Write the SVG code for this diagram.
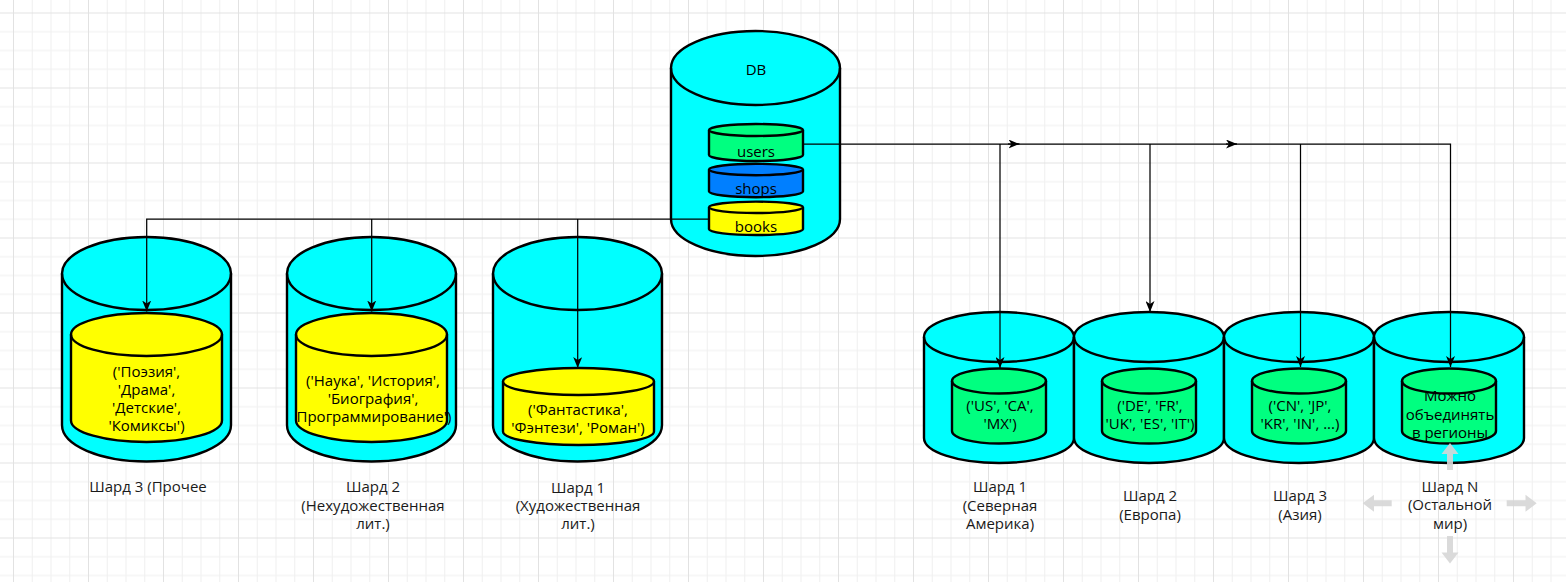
<svg xmlns="http://www.w3.org/2000/svg" width="1566" height="582" viewBox="0 0 1566 582">
<defs>
<pattern id="grid" x="13" y="12.5" width="75" height="75" patternUnits="userSpaceOnUse">
<rect x="0" y="18.75" width="75" height="1" fill="#efefef"/>
<rect x="0" y="37.5" width="75" height="1" fill="#efefef"/>
<rect x="0" y="56.25" width="75" height="1" fill="#efefef"/>
<rect x="18.75" y="0" width="1" height="75" fill="#efefef"/>
<rect x="37.5" y="0" width="1" height="75" fill="#efefef"/>
<rect x="56.25" y="0" width="1" height="75" fill="#efefef"/>
<rect x="0" y="0" width="75" height="1" fill="#e2e2e2"/>
<rect x="0" y="0" width="1" height="75" fill="#e2e2e2"/>
</pattern>
<marker id="arr" viewBox="0 0 11 9" refX="11" refY="4.5" markerWidth="11" markerHeight="9" markerUnits="userSpaceOnUse" orient="auto">
<path d="M0,0 L11,4.5 L0,9 L3,4.5 Z" fill="#000"/>
</marker>
<style>
.cyl{stroke:#000;stroke-width:2.4;stroke-linejoin:round}
.cy{fill:#00ffff}
.ye{fill:#ffff00}
.gr{fill:#00ff80}
.bl{fill:#007fff}
.cap{fill:none;stroke:#000;stroke-width:2.4}
.con{fill:none;stroke:#000;stroke-width:1.25}
.t{font-family:"Open Sans","Liberation Sans",sans-serif;font-size:15px;fill:#000;text-anchor:middle}
.lb{font-family:"Open Sans","Liberation Sans",sans-serif;font-size:15px;fill:#1a1a1a;text-anchor:middle}
.hint{fill:#d6d6d6;opacity:0.9}
</style>
</defs>
<rect width="1566" height="582" fill="#ffffff"/>
<rect width="1566" height="582" fill="url(#grid)"/>

<g id="db">
<path class="cyl cy" d="M671,68 A84.5,37 0 0 1 840,68 L840,219 A84.5,37 0 0 1 671,219 Z"/>
<path class="cap" d="M671,68 A84.5,37 0 0 0 840,68"/>
<text class="t" x="756" y="75">DB</text>
</g>
<g id="users">
<path class="cyl gr" d="M709,130 A47,6 0 0 1 803,130 L803,155 A47,6 0 0 1 709,155 Z"/>
<path class="cap" d="M709,130 A47,6 0 0 0 803,130"/>
<text class="t" x="756" y="157">users</text>
</g>
<g id="shops">
<path class="cyl bl" d="M709,169.5 A47,5.7 0 0 1 803,169.5 L803,191.5 A47,5.7 0 0 1 709,191.5 Z"/>
<path class="cap" d="M709,169.5 A47,5.7 0 0 0 803,169.5"/>
<text class="t" x="756" y="193.5">shops</text>
</g>
<g id="books">
<path class="cyl ye" d="M709,207.3 A47,5.7 0 0 1 803,207.3 L803,229.3 A47,5.7 0 0 1 709,229.3 Z"/>
<path class="cap" d="M709,207.3 A47,5.7 0 0 0 803,207.3"/>
<text class="t" x="756" y="232">books</text>
</g>

<g id="shard3-books">
<path class="cyl cy" d="M62,273.5 A84.5,36.5 0 0 1 231,273.5 L231,425 A84.5,36.5 0 0 1 62,425 Z"/>
<path class="cap" d="M62,273.5 A84.5,36.5 0 0 0 231,273.5"/>
<path class="cyl ye" d="M71,334.5 A75.5,21.5 0 0 1 222,334.5 L222,420.5 A75.5,21.5 0 0 1 71,420.5 Z"/>
<path class="cap" d="M71,334.5 A75.5,21.5 0 0 0 222,334.5"/>
<text class="t" x="146.5" y="377.3">('Поэзия',</text>
<text class="t" x="146.5" y="395.3">'Драма',</text>
<text class="t" x="146.5" y="413.3">'Детские',</text>
<text class="t" x="146.5" y="431.3">'Комиксы')</text>
<text class="lb" x="148" y="492">Шард 3 (Прочее</text>
</g>

<g id="shard2-books">
<path class="cyl cy" d="M287,273.5 A84.5,36.5 0 0 1 456,273.5 L456,425 A84.5,36.5 0 0 1 287,425 Z"/>
<path class="cap" d="M287,273.5 A84.5,36.5 0 0 0 456,273.5"/>
<path class="cyl ye" d="M296,334.5 A75.5,21.5 0 0 1 447,334.5 L447,420.5 A75.5,21.5 0 0 1 296,420.5 Z"/>
<path class="cap" d="M296,334.5 A75.5,21.5 0 0 0 447,334.5"/>
<text class="t" x="373" y="386">('Наука', 'История',</text>
<text class="t" x="373" y="404.3">'Биография',</text>
<text class="t" x="374" y="422">Программирование')</text>
<text class="lb" x="373" y="492">Шард 2</text>
<text class="lb" x="373" y="510.5">(Нехудожественная</text>
<text class="lb" x="373" y="528.5">лит.)</text>
</g>

<g id="shard1-books">
<path class="cyl cy" d="M493,273.5 A84.5,36.5 0 0 1 662,273.5 L662,425 A84.5,36.5 0 0 1 493,425 Z"/>
<path class="cap" d="M493,273.5 A84.5,36.5 0 0 0 662,273.5"/>
<path class="cyl ye" d="M503,381.5 A75.5,13.5 0 0 1 654,381.5 L654,431.5 A75.5,13.5 0 0 1 503,431.5 Z"/>
<path class="cap" d="M503,381.5 A75.5,13.5 0 0 0 654,381.5"/>
<text class="t" x="578" y="415.3">('Фантастика',</text>
<text class="t" x="578" y="433">'Фэнтези', 'Роман')</text>
<text class="lb" x="578" y="492.5">Шард 1</text>
<text class="lb" x="578" y="511">(Художественная</text>
<text class="lb" x="578" y="528.5">лит.)</text>
</g>

<g id="shard1-users">
<path class="cyl cy" d="M924,337 A75,25 0 0 1 1074,337 L1074,438 A75,25 0 0 1 924,438 Z"/>
<path class="cap" d="M924,337 A75,25 0 0 0 1074,337"/>
<path class="cyl gr" d="M952,381 A47,12.5 0 0 1 1046,381 L1046,431 A47,12.5 0 0 1 952,431 Z"/>
<path class="cap" d="M952,381 A47,12.5 0 0 0 1046,381"/>
<text class="t" x="1000" y="411">('US', 'CA',</text>
<text class="t" x="1000" y="428.6">'MX')</text>
<text class="lb" x="1000" y="492">Шард 1</text>
<text class="lb" x="1000" y="511">(Северная</text>
<text class="lb" x="1000" y="528.6">Америка)</text>
</g>

<g id="shard2-users">
<path class="cyl cy" d="M1074,337 A75,25 0 0 1 1224,337 L1224,438 A75,25 0 0 1 1074,438 Z"/>
<path class="cap" d="M1074,337 A75,25 0 0 0 1224,337"/>
<path class="cyl gr" d="M1102,381 A47,12.5 0 0 1 1196,381 L1196,431 A47,12.5 0 0 1 1102,431 Z"/>
<path class="cap" d="M1102,381 A47,12.5 0 0 0 1196,381"/>
<text class="t" x="1150" y="411">('DE', 'FR',</text>
<text class="t" x="1150" y="428.6">'UK', 'ES', 'IT')</text>
<text class="lb" x="1150" y="501.3">Шард 2</text>
<text class="lb" x="1150" y="519.6">(Европа)</text>
</g>

<g id="shard3-users">
<path class="cyl cy" d="M1224,337 A75,25 0 0 1 1374,337 L1374,438 A75,25 0 0 1 1224,438 Z"/>
<path class="cap" d="M1224,337 A75,25 0 0 0 1374,337"/>
<path class="cyl gr" d="M1252,381 A47,12.5 0 0 1 1346,381 L1346,431 A47,12.5 0 0 1 1252,431 Z"/>
<path class="cap" d="M1252,381 A47,12.5 0 0 0 1346,381"/>
<text class="t" x="1300" y="410.5">('CN', 'JP',</text>
<text class="t" x="1300" y="428.6">'KR', 'IN', ...)</text>
<text class="lb" x="1300" y="501.3">Шард 3</text>
<text class="lb" x="1300" y="519.6">(Азия)</text>
</g>

<g id="shardN-users">
<path class="cyl cy" d="M1374,337 A75,25 0 0 1 1524,337 L1524,438 A75,25 0 0 1 1374,438 Z"/>
<path class="cap" d="M1374,337 A75,25 0 0 0 1524,337"/>
<path class="cyl gr" d="M1402,381 A47,12.5 0 0 1 1496,381 L1496,431 A47,12.5 0 0 1 1402,431 Z"/>
<path class="cap" d="M1402,381 A47,12.5 0 0 0 1496,381"/>
<text class="t" x="1450" y="401.3">Можно</text>
<text class="t" x="1450" y="419.6">объединять</text>
<text class="t" x="1450" y="437.6">в регионы</text>
<text class="lb" x="1450" y="492">Шард N</text>
<text class="lb" x="1450" y="510.3">(Остальной</text>
<text class="lb" x="1450" y="528.6">мир)</text>
</g>

<g id="connectors">
<path class="con" d="M803,144 H1450.5 V367" marker-end="url(#arr)"/>
<path class="con" d="M1000,144 V368" marker-end="url(#arr)"/>
<path class="con" d="M1150,144 V312" marker-end="url(#arr)"/>
<path class="con" d="M1300.5,144 V367" marker-end="url(#arr)"/>
<path class="con" d="M1008,144 H1019.5" marker-end="url(#arr)"/>
<path class="con" d="M1226,144 H1237" marker-end="url(#arr)"/>
<path class="con" d="M709,219 H146.7 V311.5" marker-end="url(#arr)"/>
<path class="con" d="M371.7,219 V311.5" marker-end="url(#arr)"/>
<path class="con" d="M577.7,219 V368" marker-end="url(#arr)"/>
</g>

<g id="hints">
<path class="hint" d="M1450,443 L1458.5,454 L1453,454 L1453,470 L1447,470 L1447,454 L1441.5,454 Z"/>
<path class="hint" d="M1450,563.5 L1458.5,552.5 L1453,552.5 L1453,536 L1447,536 L1447,552.5 L1441.5,552.5 Z"/>
<path class="hint" d="M1362.7,503.3 L1374,494.8 L1374,500.3 L1391.7,500.3 L1391.7,506.3 L1374,506.3 L1374,511.8 Z"/>
<path class="hint" d="M1536.7,503.3 L1525.5,494.8 L1525.5,500.3 L1506.7,500.3 L1506.7,506.3 L1525.5,506.3 L1525.5,511.8 Z"/>
</g>
</svg>
